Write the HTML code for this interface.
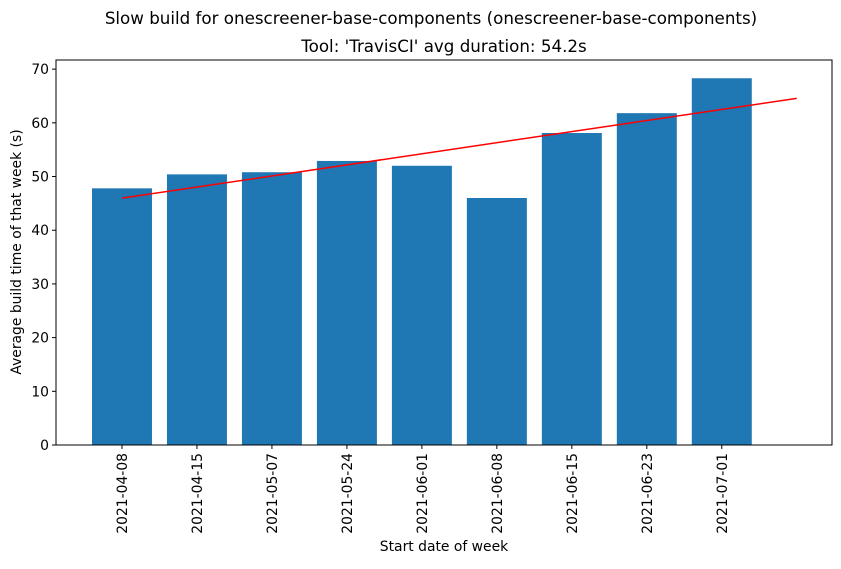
<!DOCTYPE html>
<html><head><meta charset="utf-8"><style>
body{margin:0;background:#fff;}
svg{font-family:"DejaVu Sans","Liberation Sans",sans-serif;}
</style></head><body>
<svg id="chart" width="841" height="564" viewBox="0 0 841 564" xmlns="http://www.w3.org/2000/svg">
<text x="431" y="24" font-size="16.7" text-anchor="middle">Slow build for onescreener-base-components (onescreener-base-components)</text>
<text x="444" y="52" font-size="16.7" text-anchor="middle">Tool: 'TravisCI' avg duration: 54.2s</text>
<g id="bars"></g>
<g id="trend"></g>
<g id="yticks"></g>
<g id="xticks"></g>
<rect x="56" y="60" width="776" height="385" fill="none" stroke="#000" stroke-width="1"/>
<text transform="translate(21,252) rotate(-90)" font-size="13.9" text-anchor="middle">Average build time of that week (s)</text>
<text x="444" y="551" font-size="13.9" text-anchor="middle">Start date of week</text>
</svg>
<script>
const categories=["2021-04-08","2021-04-15","2021-05-07","2021-05-24","2021-06-01","2021-06-08","2021-06-15","2021-06-23","2021-07-01"];
const values=[47.8,50.4,50.8,52.9,52.0,46.0,58.1,61.8,68.3];
const yTicks=[0,10,20,30,40,50,60,70];
const NS="http://www.w3.org/2000/svg";
const L=56,R=832,T=60,B=445;
const xMin=-0.88,xMax=9.47,yMax=71.7;
const xs=i=>L+(i-xMin)/(xMax-xMin)*(R-L);
const ys=v=>B-v/yMax*(B-T);
const bw=0.8*(R-L)/(xMax-xMin);
function mk(tag,attrs,parent){const e=document.createElementNS(NS,tag);for(const k in attrs)e.setAttribute(k,attrs[k]);parent.appendChild(e);return e;}
const gb=document.getElementById('bars');
values.forEach((v,i)=>{
 const r=mk('rect',{x:xs(i)-bw/2,y:ys(v),width:bw,height:B-ys(v),fill:'#1f77b4'},gb);
 
 
});
const n=values.length;let mx=0,my=0;values.forEach((v,i)=>{mx+=i;my+=v;});mx/=n;my/=n;
let sxy=0,sxx=0;values.forEach((v,i)=>{sxy+=(i-mx)*(v-my);sxx+=(i-mx)*(i-mx);});
const slope=sxy/sxx,icpt=my-slope*mx;
const ln=mk('line',{x1:xs(0),y1:ys(icpt),x2:xs(n),y2:ys(icpt+slope*n),stroke:'#ff0000','stroke-width':1.5},document.getElementById('trend'));


const gy=document.getElementById('yticks');
yTicks.forEach(t=>{
 const y=ys(t);
 const tk=mk('line',{x1:L-4,x2:L,y1:y,y2:y,stroke:'#000'},gy);
 
 
 const tx=mk('text',{x:L-7,y:y+5,'font-size':13.9,'text-anchor':'end'},gy);tx.textContent=t;
 
 
});
const gx=document.getElementById('xticks');
categories.forEach((c,i)=>{
 const x=xs(i);
 const tk=mk('line',{x1:x,x2:x,y1:B,y2:B+4,stroke:'#000'},gx);
 
 
 const tx=mk('text',{transform:`translate(${x+5},${B+8}) rotate(-90)`,'font-size':13.9,'text-anchor':'end'},gx);tx.textContent=c;
 
 
});
</script>
</body></html>
